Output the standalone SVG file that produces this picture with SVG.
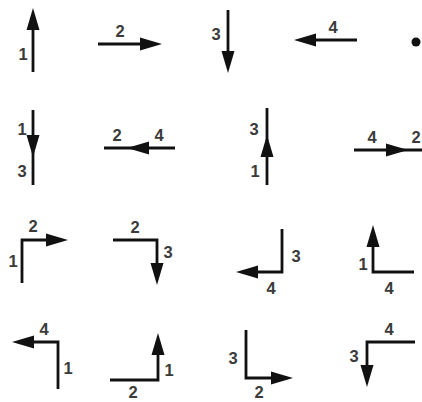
<svg xmlns="http://www.w3.org/2000/svg" xmlns:xlink="http://www.w3.org/1999/xlink" width="422" height="402" viewBox="0 0 422 402">
<style>
.ln{fill:none;stroke:#111;stroke-width:2.8;stroke-linejoin:miter}
.ah{fill:#111}
.lb{font-family:"Liberation Sans",Arial,sans-serif;font-size:16.5px;font-weight:bold;fill:#3a3a3a;text-anchor:middle}
</style>
<defs>
<path id="ah" class="ah" d="M0,0 L-22,-6.5 L-22,6.5 Z"/>
</defs>
<rect width="422" height="402" fill="#fff"/>
<g id="connectors">
<!-- row 1 -->
<g id="a1"><path class="ln" d="M33,72 V16"/><use xlink:href="#ah" transform="translate(33,8) rotate(-90)"/><text class="lb" x="23" y="60">1</text></g>
<g id="a2"><path class="ln" d="M98,44 H154"/><use xlink:href="#ah" transform="translate(162,44)"/><text class="lb" x="120" y="37">2</text></g>
<g id="a3"><path class="ln" d="M228,10 V65"/><use xlink:href="#ah" transform="translate(228,73) rotate(90)"/><text class="lb" x="216" y="40">3</text></g>
<g id="a4"><path class="ln" d="M357,40 H302"/><use xlink:href="#ah" transform="translate(294,40) rotate(180)"/><text class="lb" x="333" y="33">4</text></g>
<g id="dot"><circle cx="416" cy="42" r="4.5" fill="#111"/></g>
<!-- row 2 -->
<g id="b1"><path class="ln" d="M33,110 V185"/><use xlink:href="#ah" transform="translate(33,157) rotate(90)"/><text class="lb" x="22" y="135">1</text><text class="lb" x="22" y="177">3</text></g>
<g id="b2"><path class="ln" d="M104,148 H175"/><use xlink:href="#ah" transform="translate(127,148) rotate(180)"/><text class="lb" x="117" y="141">2</text><text class="lb" x="159" y="141">4</text></g>
<g id="b3"><path class="ln" d="M267,108 V185"/><use xlink:href="#ah" transform="translate(267,135) rotate(-90)"/><text class="lb" x="254" y="135">3</text><text class="lb" x="255" y="177">1</text></g>
<g id="b4"><path class="ln" d="M354,150 H422"/><use xlink:href="#ah" transform="translate(408,150)"/><text class="lb" x="372" y="143">4</text><text class="lb" x="416" y="143">2</text></g>
<!-- row 3 -->
<g id="c1"><path class="ln" d="M22,283 V240 H60"/><use xlink:href="#ah" transform="translate(68,240)"/><text class="lb" x="13" y="267">1</text><text class="lb" x="33" y="232">2</text></g>
<g id="c2"><path class="ln" d="M113,240 H157 V277"/><use xlink:href="#ah" transform="translate(157,285) rotate(90)"/><text class="lb" x="135" y="233">2</text><text class="lb" x="168" y="258">3</text></g>
<g id="c3"><path class="ln" d="M282,229 V272 H244"/><use xlink:href="#ah" transform="translate(236,272) rotate(180)"/><text class="lb" x="296" y="262">3</text><text class="lb" x="271" y="294">4</text></g>
<g id="c4"><path class="ln" d="M414,272 H373 V233"/><use xlink:href="#ah" transform="translate(373,225) rotate(-90)"/><text class="lb" x="363" y="270">1</text><text class="lb" x="389" y="294">4</text></g>
<!-- row 4 -->
<g id="d1"><path class="ln" d="M58,389 V342 H20"/><use xlink:href="#ah" transform="translate(12,342) rotate(180)"/><text class="lb" x="44" y="335">4</text><text class="lb" x="68" y="374">1</text></g>
<g id="d2"><path class="ln" d="M110,380 H158 V341"/><use xlink:href="#ah" transform="translate(158,333) rotate(-90)"/><text class="lb" x="169" y="376">1</text><text class="lb" x="133" y="398">2</text></g>
<g id="d3"><path class="ln" d="M246,330 V378 H285"/><use xlink:href="#ah" transform="translate(293,378)"/><text class="lb" x="233" y="364">3</text><text class="lb" x="259" y="398">2</text></g>
<g id="d4"><path class="ln" d="M415,342 H367 V379"/><use xlink:href="#ah" transform="translate(367,387) rotate(90)"/><text class="lb" x="354" y="362">3</text><text class="lb" x="389" y="335">4</text></g>
</g>
</svg>
